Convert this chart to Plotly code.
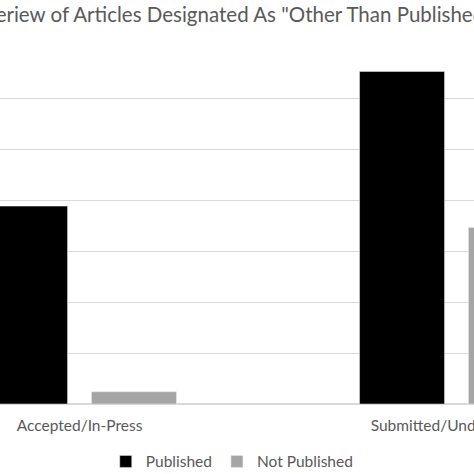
import plotly.graph_objects as go

# Data (y axis 0-35, labels cropped in the original)
categories = ["Accepted/In-Press", "Submitted/Under Review"]
published = [19.4, 32.6]
not_published = [1.2, 17.3]
title_text = 'Overiew of Articles Designated As "Other Than Published"'

grey_text = "#595959"

fig = go.Figure()
fig.add_trace(go.Bar(x=categories, y=published, name="Published", marker=dict(color="#000000")))
fig.add_trace(go.Bar(x=categories, y=not_published, name="Not Published", marker=dict(color="#a5a5a5")))

fig.update_layout(
    width=474,
    height=474,
    margin=dict(l=0, r=0, t=47, b=70, autoexpand=False),
    paper_bgcolor="white",
    plot_bgcolor="white",
    font=dict(family="Lato", size=15, color=grey_text),
    barmode="group",
    bargap=0.422,
    bargroupgap=0.22,
    showlegend=True,
    legend=dict(
        orientation="h",
        x=0.49,
        xanchor="center",
        y=-0.162,
        yanchor="middle",
        font=dict(size=15.5, color=grey_text),
        itemwidth=30,
    ),
    annotations=[
        # chart title, cut at both sides like the original crop
        dict(
            text=title_text,
            xref="paper",
            yref="paper",
            x=-0.07,
            xanchor="left",
            y=1.093,
            yanchor="middle",
            showarrow=False,
            font=dict(size=20.5, color=grey_text),
        )
    ],
)

fig.update_xaxes(
    range=[-0.2109, 1.0464],
    showgrid=False,
    showline=False,
    ticks="",
    ticklabelstandoff=10,
    tickfont=dict(size=15.5, color=grey_text),
    automargin=False,
)
fig.update_yaxes(
    range=[0, 35],
    dtick=5,
    showgrid=True,
    gridcolor="#d9d9d9",
    gridwidth=1.3,
    zeroline=True,
    zerolinecolor="#d9d9d9",
    zerolinewidth=1.5,
    showticklabels=False,
    ticks="",
    automargin=False,
)

fig.write_html(
    "out.html",
    config={"displayModeBar": False},
    post_script="document.body.style.margin = '0';",
)
